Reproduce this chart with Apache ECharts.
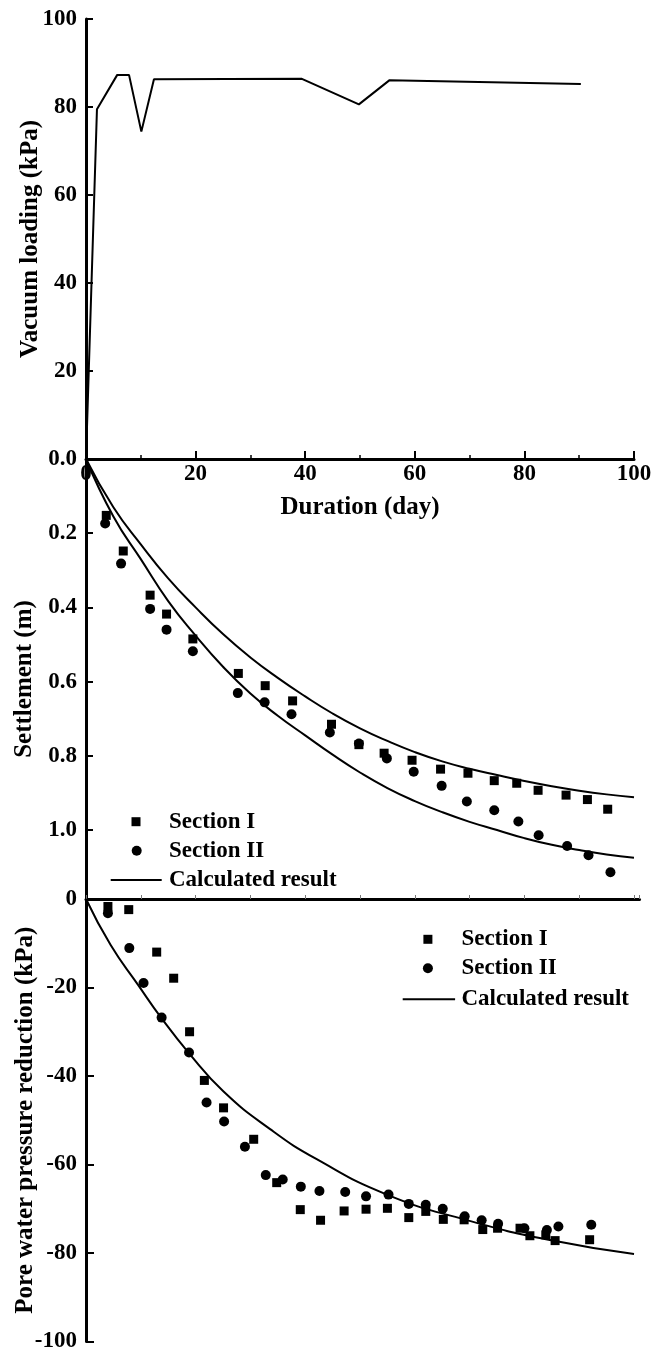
<!DOCTYPE html>
<html><head><meta charset="utf-8">
<script src="https://cdn.jsdelivr.net/npm/echarts@6/dist/echarts.min.js"></script>
<style>html,body{margin:0;padding:0;background:#fff}#c{width:653px;height:1360px}</style>
</head><body><div id="c"></div>
<script>
// ---- Data ----
// Top panel: vacuum loading (kPa) vs duration (day)
const vacuumLoading = [[0,0],[2.0,79.5],[5.7,87.3],[7.85,87.3],[10.1,74.4],[12.4,86.3],[39.4,86.4],[49.8,80.6],[55.4,86.1],[90.3,85.2]];

// Middle panel: settlement (m)
const settleSection1 = [[3.7,0.152],[6.8,0.248],[11.7,0.367],[14.7,0.418],[19.5,0.485],[27.8,0.578],[32.7,0.611],[37.7,0.652],[44.8,0.715],[49.8,0.77],[54.4,0.793],[59.5,0.812],[64.7,0.836],[69.7,0.847],[74.5,0.867],[78.6,0.874],[82.5,0.893],[87.6,0.906],[91.5,0.918],[95.2,0.944]];
const settleSection2 = [[3.5,0.174],[6.4,0.282],[11.7,0.404],[14.7,0.460],[19.5,0.518],[27.7,0.631],[32.6,0.656],[37.5,0.688],[44.5,0.737],[49.8,0.767],[54.9,0.807],[59.8,0.843],[64.9,0.881],[69.5,0.923],[74.5,0.947],[78.9,0.977],[82.6,1.014],[87.8,1.043],[91.7,1.068],[95.7,1.114]];
const settleCalcUpper = [[0,0],[5,0.13],[10,0.23],[15,0.322],[20,0.40],[25,0.472],[30,0.535],[35,0.59],[40,0.64],[45,0.686],[50,0.726],[55,0.76],[60,0.79],[65,0.815],[70,0.835],[75,0.852],[80,0.868],[85,0.882],[90,0.894],[95,0.904],[100,0.912]];
const settleCalcLower = [[0,0],[5,0.155],[10,0.27],[15,0.383],[20,0.476],[25,0.56],[30,0.632],[35,0.692],[40,0.745],[45,0.797],[50,0.845],[55,0.887],[60,0.922],[65,0.952],[70,0.978],[75,1.0],[80,1.022],[85,1.04],[90,1.054],[95,1.066],[100,1.075]];

// Bottom panel: pore water pressure reduction (kPa)
const poreSection1 = [[4.0,-1.7],[7.8,-2.4],[12.9,-12.0],[16.0,-17.9],[18.9,-30.0],[21.6,-41.0],[25.1,-47.2],[30.6,-54.3],[34.8,-64.1],[39.1,-70.2],[42.8,-72.6],[47.1,-70.5],[51.1,-70.1],[55.0,-69.9],[58.9,-72.0],[62.0,-70.6],[65.2,-72.4],[69.0,-72.5],[72.4,-74.7],[75.1,-74.4],[79.2,-74.4],[81.0,-76.1],[83.9,-75.9],[85.6,-77.2],[91.9,-77.0]];
const poreSection2 = [[4.0,-3.2],[7.9,-11.1],[10.5,-19.0],[13.8,-26.8],[18.8,-34.7],[22.0,-46.0],[25.2,-50.3],[29.0,-56.0],[32.8,-62.4],[35.9,-63.4],[39.2,-65.0],[42.6,-66.0],[47.3,-66.2],[51.1,-67.2],[55.2,-66.8],[58.9,-68.9],[62.0,-69.1],[65.1,-70.0],[69.1,-71.7],[72.2,-72.6],[75.2,-73.4],[80.0,-74.4],[84.1,-74.8],[86.2,-74.0],[92.2,-73.6]];
const poreCalc = [[0,0],[4.5,-10.4],[9.5,-19.4],[13.7,-26.8],[18.7,-34.7],[25.1,-43.5],[33.6,-52.0],[42.1,-58.8],[54.9,-66.8],[69.3,-72.5],[84.4,-77.0],[100,-80.2]];

const legendNames = ['Section I','Section II','Calculated result'];

// ---- Chart ----
const FONT = 'Liberation Serif';
const black = '#000';
const chart = echarts.init(document.getElementById('c'), null, {renderer:'canvas'});
const axisLine = {show:true, onZero:false, lineStyle:{color:black, width:3}};
const tickLbl = {color:black, fontFamily:FONT, fontWeight:'bold', fontSize:23};
const nameSt = {color:black, fontFamily:FONT, fontWeight:'bold', fontSize:25};
const tickIn = {show:true, inside:true, length:7, lineStyle:{color:black, width:2}};

function scatter(name, data, xi, symbol, size){
  return {name, type:'scatter', xAxisIndex:xi, yAxisIndex:xi, data, symbol, symbolSize:size,
    itemStyle:{color:black, opacity:1}, emphasis:{disabled:true}, z:3};
}
function line(name, data, xi, smooth){
  return {name, type:'line', xAxisIndex:xi, yAxisIndex:xi, data, symbol:'none', smooth,
    lineStyle:{color:black, width:2}, itemStyle:{color:black}, emphasis:{disabled:true}, z:2};
}
// one legend per entry so the marker sits where the reference puts it
function legendItem(name, icon, left, centerY, w, h, textPad){
  return {orient:'vertical', left, top:centerY - 11.5, padding:0, itemWidth:w, itemHeight:h,
    symbolKeepAspect:false, selectedMode:false,
    data:[{name, icon}],
    textStyle:{color:black, fontFamily:FONT, fontWeight:'bold', fontSize:23, lineHeight:23, padding:[0,0,0,textPad]}};
}
const lineIcon = 'path://M0,0H50V2H0Z';

chart.setOption({
  animation:false,
  backgroundColor:'#fff',
  grid:[
    {left:86, top:19, width:548, height:440, outerBoundsMode:'none'},
    {left:86, top:459, width:548, height:440, outerBoundsMode:'none'},
    {left:86, top:899, width:553.5, height:442.5, outerBoundsMode:'none'}
  ],
  legend:[
    legendItem(legendNames[0], 'rect', 131.5, 821.7, 9, 9, 23.5),
    legendItem(legendNames[1], 'circle', 131.7, 850.7, 10, 10, 22.3),
    legendItem(legendNames[2], lineIcon, 110.7, 880, 51, 2, 2.3),
    legendItem(legendNames[0], 'rect', 423.4, 939.3, 9, 9, 24),
    legendItem(legendNames[1], 'circle', 422.9, 968.3, 10, 10, 23.5),
    legendItem(legendNames[2], lineIcon, 402.7, 999.3, 52.4, 2, 1.3)
  ],
  xAxis:[
    {gridIndex:0, type:'value', min:0, max:100, interval:20, position:'bottom',
     axisLine, axisTick:{...tickIn, length:8}, minorTick:{show:true, splitNumber:2, length:4, lineStyle:{color:black, width:1.5}},
     axisLabel:{...tickLbl, margin:4}, splitLine:{show:false}, minorSplitLine:{show:false},
     name:'Duration (day)', nameLocation:'middle', nameGap:36, nameMoveOverlap:false, nameTextStyle:nameSt},
    {gridIndex:1, type:'value', min:0, max:100, show:false},
    {gridIndex:2, type:'value', min:0, max:101, interval:10, position:'top',
     axisLine, axisTick:{show:true, inside:false, length:4, lineStyle:{color:'#777', width:1}},
     axisLabel:{show:false}, splitLine:{show:false}}
  ],
  yAxis:[
    {gridIndex:0, type:'value', min:0, max:100, interval:20, axisLine, axisTick:tickIn,
     axisLabel:{...tickLbl, margin:9, showMinLabel:false}, splitLine:{show:false},
     name:'Vacuum loading (kPa)', nameLocation:'middle', nameRotate:90, nameGap:43, nameMoveOverlap:false, nameTextStyle:nameSt},
    {gridIndex:1, type:'value', inverse:true, min:0, max:1.186, interval:0.2, axisLine, axisTick:tickIn,
     axisLabel:{...tickLbl, margin:9, showMaxLabel:false, formatter:v=>v.toFixed(1)}, splitLine:{show:false},
     name:'Settlement (m)', nameLocation:'middle', nameRotate:90, nameGap:49, nameMoveOverlap:false, nameTextStyle:nameSt},
    {gridIndex:2, type:'value', min:-100, max:0, interval:20, axisLine, axisTick:{...tickIn, length:8},
     axisLabel:{...tickLbl, margin:9}, splitLine:{show:false},
     name:'Pore water pressure reduction (kPa)', nameLocation:'middle', nameRotate:90, nameGap:48, nameMoveOverlap:false, nameTextStyle:nameSt}
  ],
  series:[
    line('Vacuum loading', vacuumLoading, 0, false),
    scatter(legendNames[0], settleSection1, 1, 'rect', 9),
    scatter(legendNames[1], settleSection2, 1, 'circle', 10),
    line(legendNames[2], settleCalcUpper, 1, true),
    line(legendNames[2], settleCalcLower, 1, true),
    scatter(legendNames[0], poreSection1, 2, 'rect', 9),
    scatter(legendNames[1], poreSection2, 2, 'circle', 10),
    line(legendNames[2], poreCalc, 2, true)
  ]
});
</script>
</body></html>
